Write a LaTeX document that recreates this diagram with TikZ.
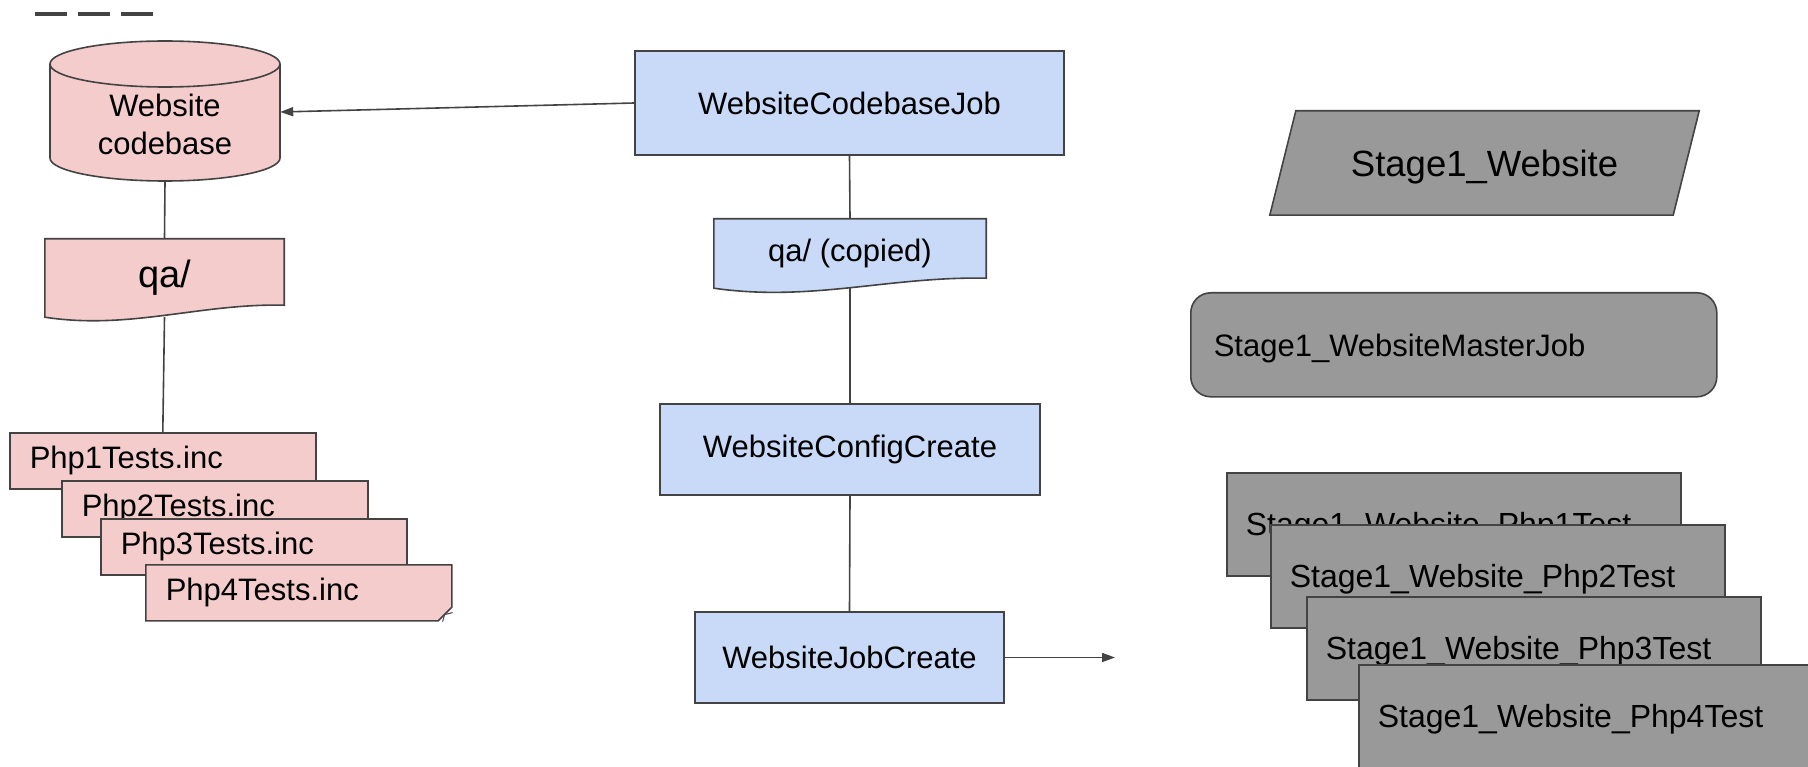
\documentclass[tikz,border=0pt]{standalone}
\usepackage{fontspec}
\setmainfont{Liberation Sans}
\usetikzlibrary{arrows.meta,backgrounds,shapes.misc}
\definecolor{pinkfill}{HTML}{F4CCCC}
\definecolor{bluefill}{HTML}{C9DAF8}
\definecolor{greyfill}{HTML}{999999}
\definecolor{edgegrey}{HTML}{434343}
\tikzset{
  outline/.style={draw=edgegrey, line width=1.6pt},
  pinkbox/.style={outline, fill=pinkfill, anchor=north west, minimum height=56pt,
    text width=266pt, inner xsep=20pt, align=left, font=\fontsize{31}{37}\selectfont},
  bluebox/.style={outline, fill=bluefill, font=\fontsize{31}{37}\selectfont},
  greybox/.style={outline, fill=greyfill, anchor=north west, minimum height=103pt,
    text width=416pt, inner xsep=19pt, align=left, text depth=0pt, font=\fontsize{32}{38}\selectfont},
  textonly/.style={align=center, font=\fontsize{31}{38}\selectfont},
  link/.style={draw=edgegrey, line width=1.6pt},
  linkarrow/.style={-{Triangle[length=13pt,width=9pt]}}
}
\begin{document}
\begin{tikzpicture}[x=1pt,y=-1pt]
  \useasboundingbox (0,0) rectangle (1808,767);
  \coordinate (d1) at (35,14);
  \coordinate (d2) at (153,14);
  \draw[edgegrey, line width=3.5pt, dash pattern=on 32pt off 11pt] (d1) -- (d2);
  % codebase side
  \draw
    (165,124) node[textonly, minimum width=230pt, minimum height=114pt] (code){Website\\codebase}
    (164.5,278) node[textonly, minimum width=239pt, minimum height=78pt,
      font=\fontsize{38}{44}\selectfont] (qa){qa/}
    (9,432) node[pinkbox] (php1){Php1Tests.inc}
    (61,480) node[pinkbox] (php2){Php2Tests.inc}
    (100,518) node[pinkbox] (php3){Php3Tests.inc}
    (145,564) node[pinkbox, chamfered rectangle, chamfered rectangle corners=south east,
      chamfered rectangle xsep=10pt, inner xsep=10pt] (php4){Php4Tests.inc};
  \draw[outline, line width=1pt] (php4.east |- php4.south) ++(-10,0) -- ++(2,-7) -- ++(8,-2);
  % jobs
  \draw
    (849.5,103) node[bluebox, minimum width=429pt, minimum height=104pt] (codejob){WebsiteCodebaseJob}
    (850,253.5) node[textonly, minimum width=272pt, minimum height=69pt] (qacopy){qa/ (copied)}
    (850,449.5) node[bluebox, minimum width=380pt, minimum height=91pt] (config){WebsiteConfigCreate}
    (849.5,657.5) node[bluebox, minimum width=309pt, minimum height=91pt] (jobcreate){WebsiteJobCreate}
    (1115,657.5) coordinate (jobs);
  % stage 1
  \draw
    (1484.5,163) node[textonly, minimum width=403pt, minimum height=104pt, text depth=0pt,
      font=\fontsize{36.5}{44}\selectfont] (stage){Stage1\_Website}
    (1190,292) node[greybox, rounded corners=20pt, minimum height=104pt, text width=480pt,
      inner xsep=23pt, font=\fontsize{31}{37}\selectfont] (master){Stage1\_WebsiteMasterJob}
    (1226,472) node[greybox] (test1){Stage1\_Website\_Php1Test}
    (1270,524) node[greybox] (test2){Stage1\_Website\_Php2Test}
    (1306,596) node[greybox] (test3){Stage1\_Website\_Php3Test}
    (1358,664) node[greybox] (test4){Stage1\_Website\_Php4Test};
  \begin{scope}[on background layer]
    \draw[outline, fill=pinkfill] (50,64) -- (50,158)
      arc[start angle=180, end angle=0, x radius=115, y radius=23] -- (280,64)
      arc[start angle=0, end angle=-180, x radius=115, y radius=23] -- cycle;
    \draw[outline] (50,64) arc[start angle=180, end angle=0, x radius=115, y radius=23];
    \draw[outline, fill=pinkfill] (qa.north west) -- (qa.north east) -- ([yshift=12pt]qa.south east)
      .. controls +(-84,-2) and +(85,13) .. (qa.south west) -- cycle;
    \draw[outline, fill=bluefill] (qacopy.north west) -- (qacopy.north east) -- ([yshift=10pt]qacopy.south east)
      .. controls +(-96,-2) and +(97,14) .. (qacopy.south west) -- cycle;
    \draw[outline, fill=greyfill] ([xshift=13pt]stage.north west) -- ([xshift=13pt]stage.north east)
      -- ([xshift=-13pt]stage.south east) -- ([xshift=-13pt]stage.south west) -- cycle;
  \end{scope}
  \begin{scope}[link]
    \draw[linkarrow] (codejob.west) -- ([yshift=12pt]code.east);
    \draw (code.south) -- (qa.north);
    \draw (qa.south) -- (php1.north);
    \draw (codejob.south) -- (qacopy.north);
    \draw (qacopy.south) -- (config.north);
    \draw (config.south) -- (jobcreate.north);
    \draw[linkarrow] (jobcreate.east) -- (jobs);
  \end{scope}
\end{tikzpicture}
\end{document}
